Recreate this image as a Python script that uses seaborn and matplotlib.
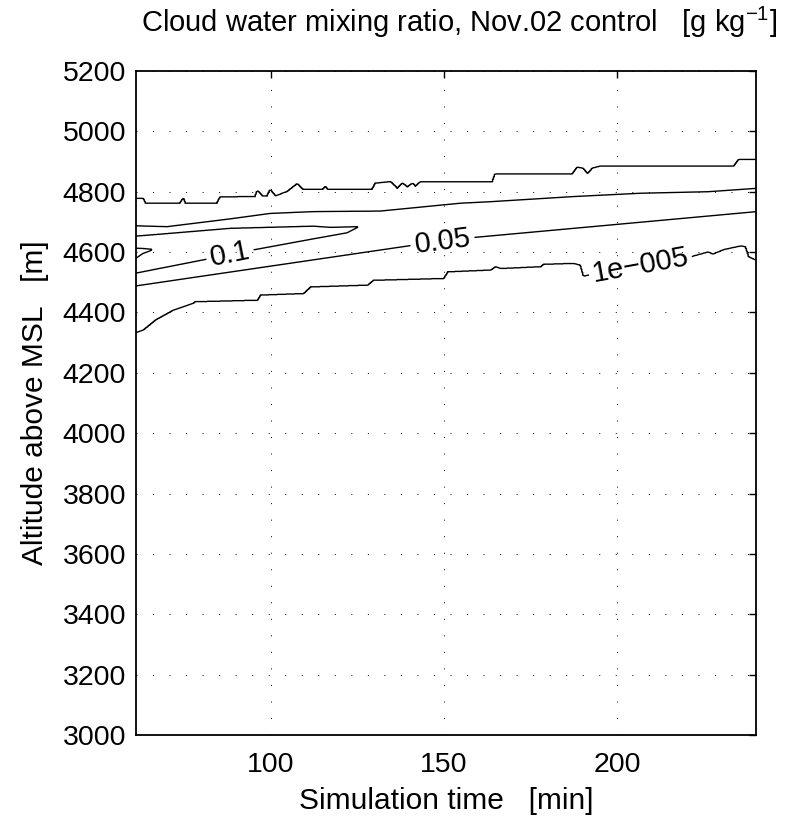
import numpy as np
import matplotlib
matplotlib.use("Agg")
import matplotlib.pyplot as plt
import seaborn as sns

# contour boundaries: (time [min], altitude [m])
# cloud top, 1e-5 g/kg
top_t = [61, 63.1, 63.7, 73.8, 74.7, 75.2, 84.5, 85.4, 95.5, 96.1, 97.5, 99.0, 99.8,
         101.3, 104.7, 107.6, 109.1, 115.1, 115.7, 116.3, 129.3, 130.2, 134.5, 136.5,
         138.0, 139.4, 140.9, 141.7, 143.2, 164.0, 164.8, 187.1, 188.5, 190.0, 191.4,
         192.9, 195.2, 233.7, 235.1, 240]
top_z = [4778, 4778, 4762, 4762, 4778, 4762, 4762, 4782, 4784, 4803, 4786, 4786, 4806,
         4786, 4800, 4826, 4808, 4808, 4817, 4808, 4808, 4828, 4833, 4811,
         4828, 4815, 4828, 4817, 4833, 4833, 4859, 4859, 4881, 4878, 4859,
         4878, 4885, 4885, 4907, 4907]

# upper 0.05 g/kg
a_t = [61, 70.0, 88.3, 99.8, 112.2, 131.6, 154.7, 163.4, 187.4, 206.8, 226.2, 240]
a_z = [4687, 4684, 4710, 4728, 4734, 4736, 4762, 4767, 4784, 4795, 4800, 4811]

# 0.1 g/kg core (closes near 125 min)
b_top_t = [61, 88.3, 112.2, 117.2, 125.0]
b_top_z = [4653, 4679, 4686, 4682, 4684]
b_bot_t = [61, 80.5, 94.9, 111.4, 122.0, 125.0]
b_bot_z = [4530, 4574, 4607, 4642, 4664, 4682]

# small dip below 0.1 at the left edge
tg_t = [61, 63.0, 65.7]
tg_top = [4613, 4612, 4609]
tg_bot = [4579, 4595, 4607]

# lower 0.05 g/kg
c_t = [61, 141.2, 159.1, 240]
c_z = [4488, 4623, 4649, 4734]

# cloud base, 1e-5 g/kg
d_t = [61, 63.1, 66.6, 71.8, 77.6, 78.1, 96.1, 96.9, 109.4, 111.4, 127.9, 129.6,
       149.8, 151.0, 163.4, 164.8, 166.3, 177.8, 178.7, 187.4, 189.4, 190.3, 191.7,
       221.2, 226.2, 227.6, 230.8, 235.7, 237.1, 238.0, 240]
d_z = [4333, 4342, 4375, 4408, 4431, 4436, 4441, 4458, 4463, 4485, 4491, 4507,
       4513, 4535, 4541, 4552, 4546, 4552, 4560, 4563, 4557, 4521, 4524,
       4585, 4601, 4594, 4609, 4621, 4618, 4585, 4574]

levels = [1e-5, 0.05, 0.1]
level_text = {1e-5: "1e\u2212005", 0.05: "0.05", 0.1: "0.1"}

# build a gridded field whose level sets pass through the boundaries above
t = np.arange(61, 240.01, 0.25)
z = np.arange(3000, 5200.1, 1.0)
qc = np.zeros((len(z), len(t)))
for j, tt in enumerate(t):
    zd = np.interp(tt, d_t, d_z)
    zc = np.interp(tt, c_t, c_z)
    za = np.interp(tt, a_t, a_z)
    ztop = np.interp(tt, top_t, top_z)
    kz = [3000, zd, zc]
    kv = [0, 1e-5, 0.05]
    if tt <= b_top_t[-1]:
        zb0 = np.interp(tt, b_bot_t, b_bot_z)
        zb1 = np.interp(tt, b_top_t, b_top_z)
        if tt <= tg_t[-1]:
            zg0 = np.interp(tt, tg_t, tg_bot)
            zg1 = np.interp(tt, tg_t, tg_top)
            kz += [zb0, (zb0 + zg0) / 2, zg0, (zg0 + zg1) / 2, zg1, (zg1 + zb1) / 2, zb1]
            kv += [0.1, 0.11, 0.1, 0.095, 0.1, 0.11, 0.1]
        else:
            kz += [zb0, (zb0 + zb1) / 2, zb1]
            kv += [0.1, 0.11, 0.1]
    else:
        kz += [(zc + za) / 2]
        kv += [0.08]
    kz += [za, ztop, 5200]
    kv += [0.05, 1e-5, 0]
    qc[:, j] = np.interp(z, kz, kv)

sns.set_theme(style="white")
plt.rcParams["font.family"] = ["Liberation Sans", "DejaVu Sans"]
plt.rcParams["mathtext.default"] = "regular"

fig = plt.figure(figsize=(7.86, 8.18), dpi=100)
ax = fig.add_axes([0.1727, 0.1015, 0.789, 0.8117])

cs = ax.contour(t, z, qc, levels=levels, colors="black", linewidths=1.0)
ax.clabel(cs, fmt=level_text, fontsize=21, inline=True, inline_spacing=4,
          manual=[(88.3, 4585), (149.6, 4630), (206.8, 4550)])

ax.set_xlim(61, 240)
ax.set_ylim(3000, 5200)
ax.set_xticks([100, 150, 200])
ax.set_yticks(np.arange(3000, 5201, 200))
ax.grid(True, color="black", linestyle=(0, (1, 16)), linewidth=0.7)
ax.tick_params(direction="in", top=True, right=True, length=5, width=1,
               labelsize=20.5, colors="black")
ax.tick_params(axis="x", pad=12)
ax.tick_params(axis="y", pad=7)
for sp in ax.spines.values():
    sp.set_color("black")
    sp.set_linewidth(1.3)

ax.set_title("Cloud water mixing ratio, Nov.02 control   [g kg$^{-1}$]",
             fontsize=21, color="black", pad=28, x=0.522)
ax.set_xlabel("Simulation time   [min]", fontsize=21.5, color="black", labelpad=7)
ax.set_ylabel("Altitude above MSL   [m]", fontsize=21.5, color="black", labelpad=10)

fig.savefig("out.png", dpi=100, facecolor="white")
